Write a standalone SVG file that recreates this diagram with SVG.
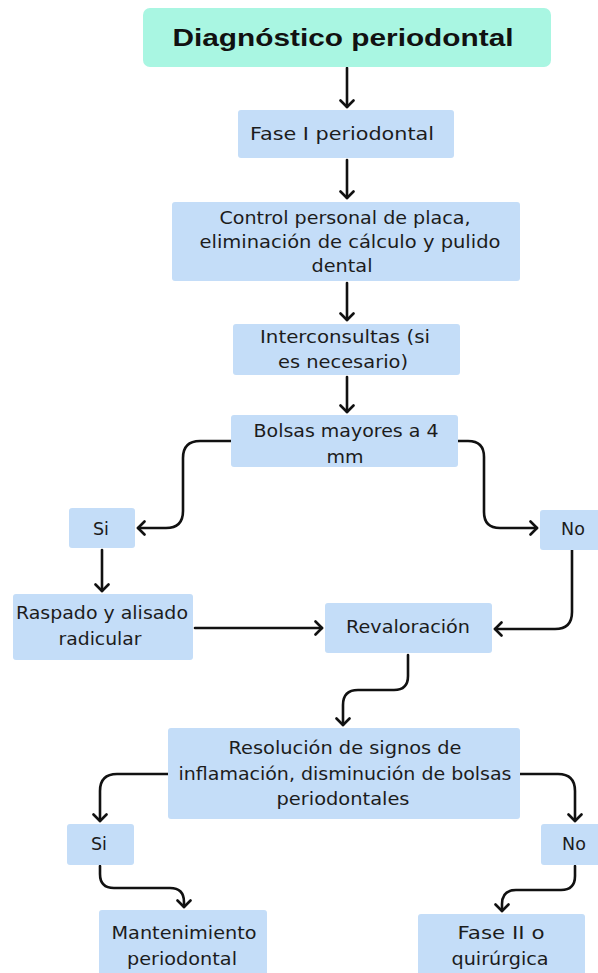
<svg xmlns="http://www.w3.org/2000/svg" width="598" height="973" viewBox="0 0 598 973">
  <style>
    .box { fill: #c4ddf8; }
    .title-box { fill: #a9f6e2; }
    .label { font-family: "DejaVu Sans", "Liberation Sans", sans-serif; font-size: 17.5px; fill: #1c1c1c; text-anchor: middle; }
    .title { font-family: "Liberation Sans", Arial, sans-serif; font-size: 24px; font-weight: bold; fill: #111; text-anchor: middle; }
    .edge { fill: none; stroke: #111; stroke-width: 2.6; stroke-linecap: round; stroke-linejoin: round; marker-end: url(#arrow); }
  </style>
  <defs>
    <marker id="arrow" markerUnits="userSpaceOnUse" markerWidth="16" markerHeight="16" refX="8" refY="8" orient="auto">
      <path d="M1.5 1.5 L8 8 L1.5 14.5" fill="none" stroke="#111" stroke-width="2.6" stroke-linecap="round" stroke-linejoin="round"/>
    </marker>
  </defs>
  <rect width="598" height="973" fill="#ffffff"/>

  <g id="connectors">
    <path class="edge" d="M347 68 V107"/>
    <path class="edge" d="M347 160 V198"/>
    <path class="edge" d="M347 283 V320"/>
    <path class="edge" d="M347 377 V412"/>
    <path class="edge" d="M231 441 H200 Q183 441 183 458 V511 Q183 528 166 528 H138"/>
    <path class="edge" d="M458 441 H468 Q484 441 484 457 V512 Q484 528 500 528 H537"/>
    <path class="edge" d="M102 550 V591"/>
    <path class="edge" d="M195 628 H322"/>
    <path class="edge" d="M572 550 V612 Q572 629 555 629 H495"/>
    <path class="edge" d="M408 655 V676 Q408 690 394 690 H358 Q343 690 343 705 V725"/>
    <path class="edge" d="M168 774 H117 Q100 774 100 791 V821"/>
    <path class="edge" d="M520 774 H558 Q575 774 575 791 V821"/>
    <path class="edge" d="M100 866 V874 Q100 888 114 888 H170 Q184 888 184 902 V907"/>
    <path class="edge" d="M575 866 V876 Q575 890 561 890 H516 Q502 890 502 904 V911"/>
  </g>

  <g id="diagnostico">
    <rect class="title-box" x="143" y="8" width="408" height="59" rx="7"/>
    <text class="title" x="343" y="46" textLength="341" lengthAdjust="spacingAndGlyphs">Diagnóstico periodontal</text>
  </g>

  <g id="fase-i">
    <rect class="box" x="238" y="110" width="216" height="48" rx="3"/>
    <text class="label" x="342" y="140" textLength="184" lengthAdjust="spacingAndGlyphs">Fase I periodontal</text>
  </g>

  <g id="control-placa">
    <rect class="box" x="172" y="202" width="348" height="79" rx="3"/>
    <text class="label" x="345" y="224" textLength="251" lengthAdjust="spacingAndGlyphs">Control personal de placa,</text>
    <text class="label" x="350" y="248" textLength="301" lengthAdjust="spacingAndGlyphs">eliminación de cálculo y pulido</text>
    <text class="label" x="342" y="272" textLength="61" lengthAdjust="spacingAndGlyphs">dental</text>
  </g>

  <g id="interconsultas">
    <rect class="box" x="233" y="324" width="227" height="51" rx="3"/>
    <text class="label" x="345" y="343" textLength="170" lengthAdjust="spacingAndGlyphs">Interconsultas (si</text>
    <text class="label" x="343" y="368" textLength="130" lengthAdjust="spacingAndGlyphs">es necesario)</text>
  </g>

  <g id="bolsas">
    <rect class="box" x="231" y="415" width="227" height="52" rx="3"/>
    <text class="label" x="346" y="437" textLength="185" lengthAdjust="spacingAndGlyphs">Bolsas mayores a 4</text>
    <text class="label" x="345" y="463" textLength="37" lengthAdjust="spacingAndGlyphs">mm</text>
  </g>

  <g id="si-1">
    <rect class="box" x="69" y="508" width="66" height="40" rx="3"/>
    <text class="label" x="101" y="535">Si</text>
  </g>

  <g id="no-1">
    <rect class="box" x="540" y="510" width="62" height="40" rx="3"/>
    <text class="label" x="573" y="535">No</text>
  </g>

  <g id="raspado">
    <rect class="box" x="13" y="594" width="180" height="66" rx="3"/>
    <text class="label" x="102" y="619" textLength="172" lengthAdjust="spacingAndGlyphs">Raspado y alisado</text>
    <text class="label" x="100" y="645" textLength="83" lengthAdjust="spacingAndGlyphs">radicular</text>
  </g>

  <g id="revaloracion">
    <rect class="box" x="325" y="603" width="167" height="50" rx="3"/>
    <text class="label" x="408" y="633" textLength="124" lengthAdjust="spacingAndGlyphs">Revaloración</text>
  </g>

  <g id="resolucion">
    <rect class="box" x="168" y="728" width="352" height="91" rx="3"/>
    <text class="label" x="345" y="754" textLength="233" lengthAdjust="spacingAndGlyphs">Resolución de signos de</text>
    <text class="label" x="345" y="780" textLength="333" lengthAdjust="spacingAndGlyphs">inflamación, disminución de bolsas</text>
    <text class="label" x="343" y="805" textLength="133" lengthAdjust="spacingAndGlyphs">periodontales</text>
  </g>

  <g id="si-2">
    <rect class="box" x="67" y="824" width="67" height="41" rx="3"/>
    <text class="label" x="99" y="850">Si</text>
  </g>

  <g id="no-2">
    <rect class="box" x="541" y="824" width="61" height="41" rx="3"/>
    <text class="label" x="574" y="850">No</text>
  </g>

  <g id="mantenimiento">
    <rect class="box" x="99" y="910" width="168" height="70" rx="3"/>
    <text class="label" x="184" y="939" textLength="145" lengthAdjust="spacingAndGlyphs">Mantenimiento</text>
    <text class="label" x="182" y="965" textLength="110" lengthAdjust="spacingAndGlyphs">periodontal</text>
  </g>

  <g id="fase-ii">
    <rect class="box" x="418" y="914" width="167" height="66" rx="3"/>
    <text class="label" x="501" y="939" textLength="87" lengthAdjust="spacingAndGlyphs">Fase II o</text>
    <text class="label" x="500" y="965" textLength="97" lengthAdjust="spacingAndGlyphs">quirúrgica</text>
  </g>
</svg>
